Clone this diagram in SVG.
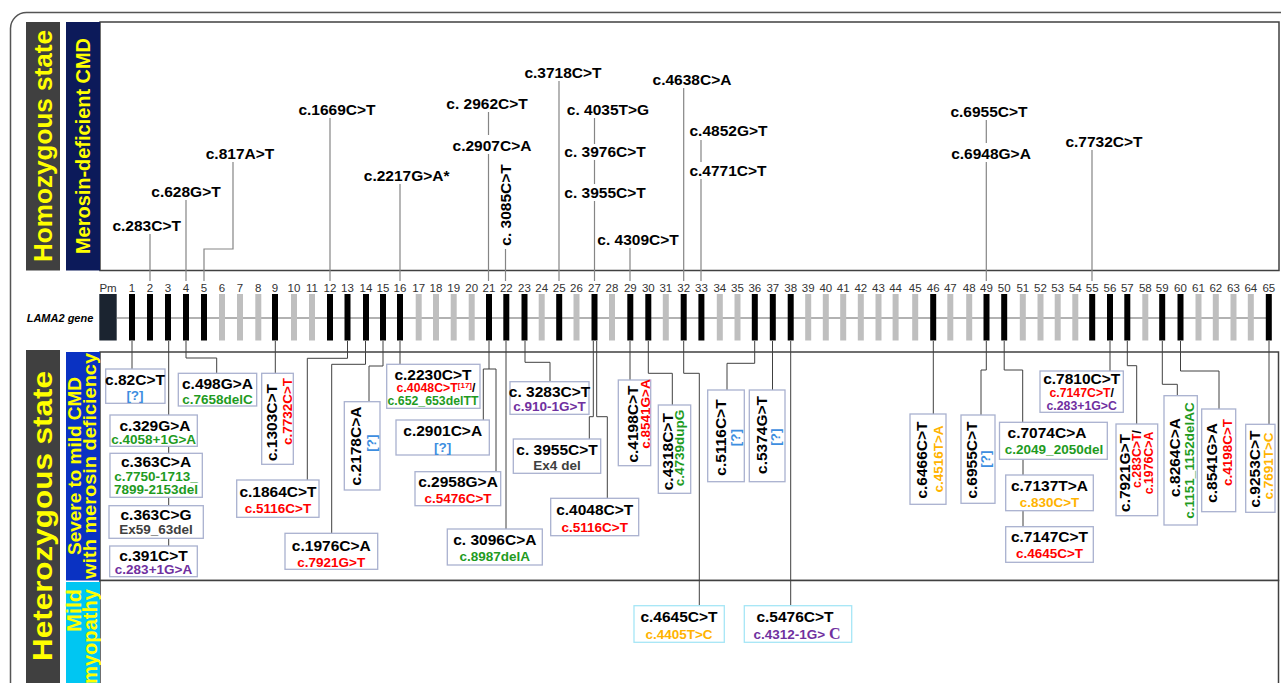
<svg xmlns="http://www.w3.org/2000/svg" width="1281" height="683" viewBox="0 0 1281 683">
<style>
text{font-family:"Liberation Sans",Arial,sans-serif;font-weight:bold}
.t{font-size:15.5px;fill:#000;text-anchor:middle}
.m{font-size:15.5px;fill:#000;text-anchor:middle}
.s{font-size:13.5px;text-anchor:middle}
.xs{font-size:12.3px;text-anchor:middle}
.r{fill:#ff0000}.g{fill:#1f9b1f}.b{fill:#3d8ee0}.p{fill:#7030a0}.o{fill:#ffb300}.k{fill:#404040}.blk{fill:#000}
.n{font-size:11.5px;font-weight:normal;fill:#333;text-anchor:middle}
.bx{fill:#fff;stroke:#a9b1cf;stroke-width:1.3}
.mx{fill:#fff;stroke:#a6e6f6;stroke-width:1.3}
.c{fill:none;stroke:#404040;stroke-width:1}
.tl{fill:none;stroke:#858585;stroke-width:1.2}
.side{fill:#ffff00;text-anchor:middle}
.panel{fill:#fff;stroke:#404040;stroke-width:1.5}
.ex{fill:#000}.eg{fill:#bfbfbf}
</style>
<rect width="1281" height="683" fill="#fff"/>
<rect x="10.5" y="12.5" width="1300" height="700" rx="16" fill="none" stroke="#555" stroke-width="1.5"/>

<g id="panels">
<rect class="panel" x="100" y="22" width="1179" height="248.5"/>
<rect class="panel" x="100" y="352" width="1178.5" height="228.5"/>
<rect class="panel" x="100" y="580.5" width="1178.5" height="130"/>
</g>

<g id="side-labels">
<g id="homozygous"><rect x="26" y="22" width="34" height="248.5" fill="#404040"/><text class="side" font-size="26" transform="translate(52,146) rotate(-90)" textLength="232" lengthAdjust="spacingAndGlyphs">Homozygous state</text></g>
<g id="merosin-cmd"><rect x="66" y="22" width="34" height="248.5" fill="#0c1a5a"/><text class="side" font-size="20" transform="translate(90,146) rotate(-90)" textLength="216" lengthAdjust="spacingAndGlyphs">Merosin-deficient CMD</text></g>
<g id="heterozygous"><rect x="26" y="350" width="34" height="340" fill="#404040"/><text class="side" font-size="27" transform="translate(52,516) rotate(-90)" textLength="290" lengthAdjust="spacingAndGlyphs">Heterozygous state</text></g>
<g id="severe"><rect x="66" y="352" width="34" height="228.5" fill="#0a32c2"/><text class="side" font-size="18.5" transform="translate(80.5,466) rotate(-90)" textLength="178" lengthAdjust="spacingAndGlyphs">Severe to mild CMD</text><text class="side" font-size="18.5" transform="translate(96,466) rotate(-90)" textLength="226" lengthAdjust="spacingAndGlyphs">with merosin deficiency</text></g>
<g id="mild"><rect x="66" y="582" width="34" height="110" fill="#00c6f2"/><text class="side" font-size="19.5" text-anchor="end" style="text-anchor:end" transform="translate(80.5,589) rotate(-90)" textLength="43" lengthAdjust="spacingAndGlyphs">Mild</text><text class="side" font-size="19.5" style="text-anchor:end" transform="translate(96.5,589) rotate(-90)" textLength="95" lengthAdjust="spacingAndGlyphs">myopathy</text></g>
</g>

<g id="gene">
<text x="60" y="322" font-size="11" font-style="italic" text-anchor="middle" fill="#000">LAMA2 gene</text>
<line x1="117" y1="318" x2="1270" y2="318" stroke="#999" stroke-width="1.5"/>
<rect x="99.3" y="294" width="17.4" height="46.5" fill="#1b2430"/>
<text class="n" x="108" y="292">Pm</text>
<rect class="ex" x="129" y="294" width="6" height="46.5"/><text class="n" x="132" y="292">1</text>
<rect class="ex" x="147" y="294" width="6" height="46.5"/><text class="n" x="150" y="292">2</text>
<rect class="ex" x="165" y="294" width="6" height="46.5"/><text class="n" x="168" y="292">3</text>
<rect class="ex" x="183" y="294" width="6" height="46.5"/><text class="n" x="186" y="292">4</text>
<rect class="ex" x="201" y="294" width="6" height="46.5"/><text class="n" x="204" y="292">5</text>
<rect class="eg" x="219" y="294" width="6" height="46.5"/><text class="n" x="222" y="292">6</text>
<rect class="eg" x="237" y="294" width="6" height="46.5"/><text class="n" x="240" y="292">7</text>
<rect class="eg" x="255.3" y="294" width="6" height="46.5"/><text class="n" x="258.3" y="292">8</text>
<rect class="ex" x="272" y="294" width="6" height="46.5"/><text class="n" x="275" y="292">9</text>
<rect class="eg" x="291" y="294" width="6" height="46.5"/><text class="n" x="294" y="292">10</text>
<rect class="eg" x="309" y="294" width="6" height="46.5"/><text class="n" x="312" y="292">11</text>
<rect class="ex" x="327" y="294" width="6" height="46.5"/><text class="n" x="330" y="292">12</text>
<rect class="ex" x="344.5" y="294" width="6" height="46.5"/><text class="n" x="347.5" y="292">13</text>
<rect class="ex" x="363" y="294" width="6" height="46.5"/><text class="n" x="366" y="292">14</text>
<rect class="ex" x="380" y="294" width="6" height="46.5"/><text class="n" x="383" y="292">15</text>
<rect class="ex" x="397" y="294" width="6" height="46.5"/><text class="n" x="400" y="292">16</text>
<rect class="eg" x="415.7" y="294" width="6" height="46.5"/><text class="n" x="418.7" y="292">17</text>
<rect class="eg" x="433" y="294" width="6" height="46.5"/><text class="n" x="436" y="292">18</text>
<rect class="eg" x="450.7" y="294" width="6" height="46.5"/><text class="n" x="453.7" y="292">19</text>
<rect class="eg" x="468.7" y="294" width="6" height="46.5"/><text class="n" x="471.7" y="292">20</text>
<rect class="ex" x="486" y="294" width="6" height="46.5"/><text class="n" x="489" y="292">21</text>
<rect class="ex" x="503.3" y="294" width="6" height="46.5"/><text class="n" x="506.3" y="292">22</text>
<rect class="ex" x="521.5" y="294" width="6" height="46.5"/><text class="n" x="524.5" y="292">23</text>
<rect class="eg" x="538.7" y="294" width="6" height="46.5"/><text class="n" x="541.7" y="292">24</text>
<rect class="ex" x="556.2" y="294" width="6" height="46.5"/><text class="n" x="559.2" y="292">25</text>
<rect class="eg" x="573.5" y="294" width="6" height="46.5"/><text class="n" x="576.5" y="292">26</text>
<rect class="ex" x="591.5" y="294" width="6" height="46.5"/><text class="n" x="594.5" y="292">27</text>
<rect class="eg" x="609" y="294" width="6" height="46.5"/><text class="n" x="612" y="292">28</text>
<rect class="ex" x="627.3" y="294" width="6" height="46.5"/><text class="n" x="630.3" y="292">29</text>
<rect class="ex" x="645.3" y="294" width="6" height="46.5"/><text class="n" x="648.3" y="292">30</text>
<rect class="eg" x="662.8" y="294" width="6" height="46.5"/><text class="n" x="665.8" y="292">31</text>
<rect class="ex" x="680.7" y="294" width="6" height="46.5"/><text class="n" x="683.7" y="292">32</text>
<rect class="ex" x="698.4" y="294" width="6" height="46.5"/><text class="n" x="701.4" y="292">33</text>
<rect class="eg" x="716.8" y="294" width="6" height="46.5"/><text class="n" x="719.8" y="292">34</text>
<rect class="eg" x="734.5" y="294" width="6" height="46.5"/><text class="n" x="737.5" y="292">35</text>
<rect class="ex" x="751.8" y="294" width="6" height="46.5"/><text class="n" x="754.8" y="292">36</text>
<rect class="ex" x="769.8" y="294" width="6" height="46.5"/><text class="n" x="772.8" y="292">37</text>
<rect class="ex" x="787.7" y="294" width="6" height="46.5"/><text class="n" x="790.7" y="292">38</text>
<rect class="eg" x="805.2" y="294" width="6" height="46.5"/><text class="n" x="808.2" y="292">39</text>
<rect class="eg" x="822.8" y="294" width="6" height="46.5"/><text class="n" x="825.8" y="292">40</text>
<rect class="eg" x="840.2" y="294" width="6" height="46.5"/><text class="n" x="843.2" y="292">41</text>
<rect class="eg" x="857.8" y="294" width="6" height="46.5"/><text class="n" x="860.8" y="292">42</text>
<rect class="eg" x="875.5" y="294" width="6" height="46.5"/><text class="n" x="878.5" y="292">43</text>
<rect class="eg" x="892.6" y="294" width="6" height="46.5"/><text class="n" x="895.6" y="292">44</text>
<rect class="eg" x="912.2" y="294" width="6" height="46.5"/><text class="n" x="915.2" y="292">45</text>
<rect class="ex" x="930.2" y="294" width="6" height="46.5"/><text class="n" x="933.2" y="292">46</text>
<rect class="eg" x="947.3" y="294" width="6" height="46.5"/><text class="n" x="950.3" y="292">47</text>
<rect class="eg" x="966.2" y="294" width="6" height="46.5"/><text class="n" x="969.2" y="292">48</text>
<rect class="ex" x="983.5" y="294" width="6" height="46.5"/><text class="n" x="986.5" y="292">49</text>
<rect class="ex" x="1001.2" y="294" width="6" height="46.5"/><text class="n" x="1004.2" y="292">50</text>
<rect class="eg" x="1019.8" y="294" width="6" height="46.5"/><text class="n" x="1022.8" y="292">51</text>
<rect class="eg" x="1037.5" y="294" width="6" height="46.5"/><text class="n" x="1040.5" y="292">52</text>
<rect class="eg" x="1054.7" y="294" width="6" height="46.5"/><text class="n" x="1057.7" y="292">53</text>
<rect class="eg" x="1072.3" y="294" width="6" height="46.5"/><text class="n" x="1075.3" y="292">54</text>
<rect class="ex" x="1089.2" y="294" width="6" height="46.5"/><text class="n" x="1092.2" y="292">55</text>
<rect class="ex" x="1107" y="294" width="6" height="46.5"/><text class="n" x="1110" y="292">56</text>
<rect class="ex" x="1124.3" y="294" width="6" height="46.5"/><text class="n" x="1127.3" y="292">57</text>
<rect class="eg" x="1142.3" y="294" width="6" height="46.5"/><text class="n" x="1145.3" y="292">58</text>
<rect class="ex" x="1159.2" y="294" width="6" height="46.5"/><text class="n" x="1162.2" y="292">59</text>
<rect class="ex" x="1177.5" y="294" width="6" height="46.5"/><text class="n" x="1180.5" y="292">60</text>
<rect class="eg" x="1195.5" y="294" width="6" height="46.5"/><text class="n" x="1198.5" y="292">61</text>
<rect class="eg" x="1212.8" y="294" width="6" height="46.5"/><text class="n" x="1215.8" y="292">62</text>
<rect class="eg" x="1230.5" y="294" width="6" height="46.5"/><text class="n" x="1233.5" y="292">63</text>
<rect class="eg" x="1247.8" y="294" width="6" height="46.5"/><text class="n" x="1250.8" y="292">64</text>
<rect class="ex" x="1265.8" y="294" width="6" height="46.5"/><text class="n" x="1268.8" y="292">65</text>
</g>

<g id="connectors">
<path class="tl" d="M150,234V281M186,200V281M233,162V249H204V281M330,118V281M400,184V281M488.5,112V135M488.5,154V281M505.5,249V281M559,81V281M594.5,118V144M594.5,160V184M594.5,201V281M630,248V281M683.7,88V281M701,140V162M701,179V281M986.3,120V143M986.3,162V281M1092,150V281"/>
<path class="c" d="M132,341V369M168.7,341V415M168.7,446.3V453.3M168.7,497.3V505.7M168.7,538.3V546M186,341V358H216.7V373.3M275.3,341V373.3M347.5,341V358.3H307.3V480M365.5,341V364.3H331.7V533.3M383,341V366H369V401.7M400,341V364.3M489,341V369H483.3V420M489,369H496V471.7M506,341V529M525,341V362.3H550V381.7M593.3,341V416.7H589.3V439M596.7,341V416.7H607.3V498.3M630,341V380M648.3,341V373.3H672.3V405M683.7,341V373.3H699.3V605.7M754.7,341V363.3H727V390M772.5,341V390M790.7,341V605.7M933.3,341V414M986.3,341V370H981V415M1004.2,341V370H1022.7V422.3M1023,459.3V475M1023,510.7V526.7M1110,341V371M1127.3,341V365.7H1136.7V424M1162.3,341V384.3H1177.3V395.7M1180.5,341V371H1219V409M1269,341V424.3"/>
</g>

<g id="homozygous-variants">
<g id="h-283"><text class="t" x="146.7" y="231">c.283C&gt;T</text></g>
<g id="h-628"><text class="t" x="186" y="197">c.628G&gt;T</text></g>
<g id="h-817"><text class="t" x="240" y="159">c.817A&gt;T</text></g>
<g id="h-1669"><text class="t" x="337" y="115">c.1669C&gt;T</text></g>
<g id="h-2217"><text class="t" x="406.7" y="181">c.2217G&gt;A*</text></g>
<g id="h-2962"><text class="t" x="487" y="109">c. 2962C&gt;T</text></g>
<g id="h-2907"><text class="t" x="492" y="151">c.2907C&gt;A</text></g>
<g id="h-3085"><text class="t" transform="translate(510.5,205) rotate(-90)">c. 3085C&gt;T</text></g>
<g id="h-3718"><text class="t" x="563" y="78">c.3718C&gt;T</text></g>
<g id="h-4035"><text class="t" x="608" y="115">c. 4035T&gt;G</text></g>
<g id="h-3976"><text class="t" x="605" y="157">c. 3976C&gt;T</text></g>
<g id="h-3955"><text class="t" x="605" y="198">c. 3955C&gt;T</text></g>
<g id="h-4309"><text class="t" x="638" y="245">c. 4309C&gt;T</text></g>
<g id="h-4638"><text class="t" x="692" y="85">c.4638C&gt;A</text></g>
<g id="h-4852"><text class="t" x="728.5" y="136">c.4852G&gt;T</text></g>
<g id="h-4771"><text class="t" x="728" y="176">c.4771C&gt;T</text></g>
<g id="h-6955"><text class="t" x="989" y="116.7">c.6955C&gt;T</text></g>
<g id="h-6948"><text class="t" x="991" y="159">c.6948G&gt;A</text></g>
<g id="h-7732"><text class="t" x="1104" y="146.7">c.7732C&gt;T</text></g>
</g>

<g id="heterozygous-variants">
<g id="v-82"><rect class="bx" x="105.7" y="369" width="59.3" height="34.3"/><text class="m" x="135" y="384.5">c.82C&gt;T</text><text class="s b" x="135" y="400">[?]</text></g>
<g id="v-329"><rect class="bx" x="110" y="415" width="87.3" height="31.3"/><text class="m" x="155" y="430.7">c.329G&gt;A</text><text class="s g" x="153.7" y="444">c.4058+1G&gt;A</text></g>
<g id="v-363a"><rect class="bx" x="110" y="453.3" width="92.3" height="44"/><text class="m" x="156" y="466.5">c.363C&gt;A</text><text class="s g" x="156" y="480.5">c.7750-1713_</text><text class="s g" x="156" y="494.3">7899-2153del</text></g>
<g id="v-363g"><rect class="bx" x="109" y="505.7" width="94.3" height="32.6"/><text class="m" x="156" y="520">c.363C&gt;G</text><text class="s k" x="156" y="534">Ex59_63del</text></g>
<g id="v-391"><rect class="bx" x="109.7" y="546" width="87.6" height="30.7"/><text class="m" x="153.5" y="560.5">c.391C&gt;T</text><text class="s p" x="153.5" y="574">c.283+1G&gt;A</text></g>
<g id="v-498"><rect class="bx" x="178.3" y="373.3" width="78.4" height="32.7"/><text class="m" x="217.5" y="389">c.498G&gt;A</text><text class="s g" x="217.5" y="404">c.7658delC</text></g>
<g id="v-1303"><rect class="bx" x="261.7" y="373.3" width="31.6" height="91"/><text class="m" transform="translate(277,422.5) rotate(-90)">c.1303C&gt;T</text><text class="s r" transform="translate(291.5,411.5) rotate(-90)">c.7732C&gt;T</text></g>
<g id="v-1864"><rect class="bx" x="236.7" y="480" width="82.3" height="37.3"/><text class="m" x="278" y="496.7">c.1864C&gt;T</text><text class="s r" x="278" y="513.3">c.5116C&gt;T</text></g>
<g id="v-1976"><rect class="bx" x="285" y="533.3" width="92.7" height="36"/><text class="m" x="331.3" y="550.7">c.1976C&gt;A</text><text class="s r" x="331.3" y="566.7">c.7921G&gt;T</text></g>
<g id="v-2178"><rect class="bx" x="344.3" y="401.7" width="35.7" height="88.3"/><text class="m" transform="translate(361,446) rotate(-90)">c.2178C&gt;A</text><text class="s b" transform="translate(375.5,443) rotate(-90)">[?]</text></g>
<g id="v-2230"><rect class="bx" x="386.7" y="364.3" width="93.3" height="44"/><text class="m" x="433" y="380">c.2230C&gt;T</text><text class="xs r" x="436" y="391.7">c.4048C&gt;T<tspan font-size="8" dy="-4">[17]</tspan><tspan class="blk" dy="4">/</tspan></text><text class="xs g" x="433" y="405">c.652_653delTT</text></g>
<g id="v-2901"><rect class="bx" x="396" y="420" width="93.3" height="35"/><text class="m" x="442.7" y="435.7">c.2901C&gt;A</text><text class="s b" x="442.7" y="451.7">[?]</text></g>
<g id="v-2958"><rect class="bx" x="415" y="471.7" width="85.7" height="34"/><text class="m" x="458" y="486.7">c.2958G&gt;A</text><text class="s r" x="458" y="503.3">c.5476C&gt;T</text></g>
<g id="v-3096"><rect class="bx" x="447.3" y="529" width="95" height="36"/><text class="m" x="494.8" y="545">c. 3096C&gt;A</text><text class="s g" x="494.8" y="560.5">c.8987delA</text></g>
<g id="v-3283"><rect class="bx" x="510" y="381.7" width="79" height="32.6"/><text class="m" x="549.5" y="396.5">c. 3283C&gt;T</text><text class="s p" x="549.5" y="410.7">c.910-1G&gt;T</text></g>
<g id="v-3955"><rect class="bx" x="513.3" y="439" width="87.4" height="34.3"/><text class="m" x="557" y="455">c. 3955C&gt;T</text><text class="s k" x="557" y="470">Ex4 del</text></g>
<g id="v-4048"><rect class="bx" x="550.7" y="498.3" width="88" height="37.4"/><text class="m" x="594.7" y="515">c.4048C&gt;T</text><text class="s r" x="594.7" y="532.3">c.5116C&gt;T</text></g>
<g id="v-4198"><rect class="bx" x="618.3" y="380" width="32.4" height="85.7"/><text class="m" transform="translate(637.5,424) rotate(-90)">c.4198C&gt;T</text><text class="s r" transform="translate(649.5,414) rotate(-90)">c.8541G&gt;A</text></g>
<g id="v-4318"><rect class="bx" x="658.3" y="405" width="32.4" height="88.3"/><text class="m" transform="translate(672.5,451.7) rotate(-90)">c.4318C&gt;T</text><text class="s g" transform="translate(684,448) rotate(-90)">c.4739dupG</text></g>
<g id="v-5116"><rect class="bx" x="707.7" y="390" width="36.6" height="91.7"/><text class="m" transform="translate(725.5,437.5) rotate(-90)">c.5116C&gt;T</text><text class="s b" transform="translate(739.5,437.5) rotate(-90)">[?]</text></g>
<g id="v-5374"><rect class="bx" x="749.3" y="390" width="35.7" height="91.7"/><text class="m" transform="translate(766.5,435) rotate(-90)">c.5374G&gt;T</text><text class="s b" transform="translate(779.5,437) rotate(-90)">[?]</text></g>
<g id="v-6466"><rect class="bx" x="910" y="414" width="36" height="90.3"/><text class="m" transform="translate(926.5,460) rotate(-90)">c.6466C&gt;T</text><text class="s o" transform="translate(942.8,459) rotate(-90)">c.4516T&gt;A</text></g>
<g id="v-6955"><rect class="bx" x="961" y="415" width="34" height="88.3"/><text class="m" transform="translate(976.5,460) rotate(-90)">c.6955C&gt;T</text><text class="s b" transform="translate(989.5,459) rotate(-90)">[?]</text></g>
<g id="v-7074"><rect class="bx" x="999.5" y="422.3" width="107.8" height="37"/><text class="m" x="1047" y="438.3">c.7074C&gt;A</text><text class="s g" x="1054" y="454">c.2049_2050del</text></g>
<g id="v-7137"><rect class="bx" x="1005.7" y="475" width="87.6" height="35.7"/><text class="m" x="1049.5" y="490.7">c.7137T&gt;A</text><text class="s o" x="1049.5" y="507.3">c.830C&gt;T</text></g>
<g id="v-7147"><rect class="bx" x="1005.7" y="526.7" width="87.6" height="35.6"/><text class="m" x="1049.5" y="541.7">c.7147C&gt;T</text><text class="s r" x="1049.5" y="558.3">c.4645C&gt;T</text></g>
<g id="v-7810"><rect class="bx" x="1040" y="371" width="83.3" height="41.3"/><text class="m" x="1081.7" y="383.5">c.7810C&gt;T</text><text class="xs r" x="1081.7" y="396.7">c.7147C&gt;T<tspan class="blk">/</tspan></text><text class="xs p" x="1081.7" y="410">c.283+1G&gt;C</text></g>
<g id="v-7921"><rect class="bx" x="1116" y="424" width="41.7" height="91.7"/><text class="m" transform="translate(1129.5,473) rotate(-90)">c.7921G&gt;T</text><text class="xs r" transform="translate(1140.5,459) rotate(-90)">c.283C&gt;T<tspan class="blk">/</tspan></text><text class="xs r" transform="translate(1152.8,463) rotate(-90)">c.1976C&gt;A</text></g>
<g id="v-8264"><rect class="bx" x="1164" y="395.7" width="33.3" height="129.3"/><text class="m" transform="translate(1179.5,457.5) rotate(-90)">c.8264C&gt;A</text><text class="s g" transform="translate(1193.8,460.5) rotate(-90)">c.1151_1152delAC</text></g>
<g id="v-8541"><rect class="bx" x="1201.7" y="409" width="34" height="102.7"/><text class="m" transform="translate(1216.5,463) rotate(-90)">c.8541G&gt;A</text><text class="s r" transform="translate(1231.8,452.5) rotate(-90)">c.4198C&gt;T</text></g>
<g id="v-9253"><rect class="bx" x="1245.7" y="424.3" width="29.3" height="88"/><text class="m" transform="translate(1259.5,469) rotate(-90)">c.9253C&gt;T</text><text class="s o" transform="translate(1272.5,466) rotate(-90)">c.7691T&gt;C</text></g>
</g>

<g id="mild-variants">
<g id="m-4645"><rect class="mx" x="634" y="605.7" width="90.3" height="36.6"/><text class="m" x="679" y="621.7">c.4645C&gt;T</text><text class="s o" x="679" y="639">c.4405T&gt;C</text></g>
<g id="m-5476"><rect class="mx" x="744.3" y="605.7" width="107.4" height="36.6"/><text class="m" x="795" y="621.7">c.5476C&gt;T</text><text class="s p" x="797" y="639">c.4312-1G&gt;<tspan font-family="'Liberation Serif',serif" font-size="16"> C</tspan></text></g>
</g>
</svg>
